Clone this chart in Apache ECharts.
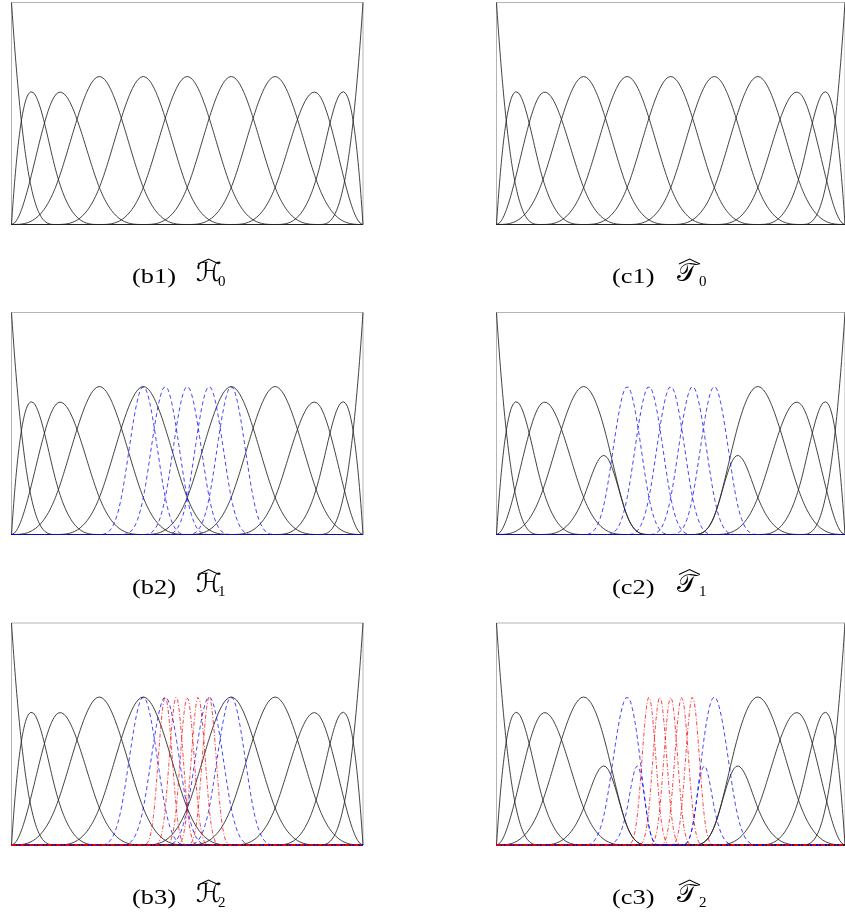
<!DOCTYPE html>
<html>
<head>
<meta charset="utf-8">
<script src="https://cdn.jsdelivr.net/npm/echarts@6/dist/echarts.min.js"></script>
<style>
  html, body { margin: 0; padding: 0; background: #ffffff; }
  #chart { width: 845px; height: 917px; }
</style>
</head>
<body>
<div id="chart"></div>
<script>
// Hierarchical (left column) and truncated hierarchical (right column)
// cubic B-spline bases on [0, 8], refined twice by dyadic bisection.
const DEGREE = 3;
const DOMAIN = [0, 8];
const LEVEL_CELLS = [8, 16, 32];            // knot spans per level
const REFINED_REGIONS = [[2, 6], [3, 5]];   // Ω1, Ω2 (nested subdomains)
const LEVEL_COLORS = ['#222222', '#0000ff', '#ff0000'];
const LEVEL_DASH = ['solid', [4, 3], [4, 2, 1, 2]];
const ROW_TAGS = [['(b1)', '(c1)'], ['(b2)', '(c2)'], ['(b3)', '(c3)']];
const COLUMN_SYMBOLS = ['\u210B', '\uD835\uDCAF']; // ℋ, 𝒯
const ROW_SUBSCRIPTS = ['0', '1', '2'];
const SAMPLE_STEP = 0.01;

// ---- B-spline machinery -------------------------------------------------
function openKnots(level) {
  const n = LEVEL_CELLS[level];
  const h = (DOMAIN[1] - DOMAIN[0]) / n;
  const U = [];
  for (let k = 0; k < DEGREE; k++) U.push(DOMAIN[0]);
  for (let k = 0; k <= n; k++) U.push(DOMAIN[0] + k * h);
  for (let k = 0; k < DEGREE; k++) U.push(DOMAIN[1]);
  return U;
}

function coxDeBoor(U, i, p, x) {
  if (p === 0) return (U[i] <= x && x < U[i + 1]) ? 1 : 0;
  let v = 0;
  const d1 = U[i + p] - U[i];
  const d2 = U[i + p + 1] - U[i + 1];
  if (d1 > 0) v += (x - U[i]) / d1 * coxDeBoor(U, i, p - 1, x);
  if (d2 > 0) v += (U[i + p + 1] - x) / d2 * coxDeBoor(U, i + 1, p - 1, x);
  return v;
}

function evalCombo(U, c, x) {
  const xx = Math.min(x, DOMAIN[1] - 1e-9);
  let s = 0;
  for (let i = 0; i < c.length; i++) {
    if (c[i] !== 0) s += c[i] * coxDeBoor(U, i, DEGREE, xx);
  }
  return s;
}

// Boehm single knot insertion
function insertKnot(U, c, t) {
  const p = DEGREE;
  let k = -1;
  for (let i = 0; i < U.length - 1; i++) if (U[i] <= t && t < U[i + 1]) k = i;
  const nc = [];
  for (let i = 0; i <= c.length; i++) {
    if (i <= k - p) nc.push(c[i]);
    else if (i <= k) {
      const a = (t - U[i]) / (U[i + p] - U[i]);
      nc.push(a * c[i] + (1 - a) * c[i - 1]);
    } else nc.push(c[i - 1]);
  }
  return [U.slice(0, k + 1).concat([t], U.slice(k + 1)), nc];
}

function refine(level, c) {
  let U = openKnots(level);
  const target = openKnots(level + 1);
  let cc = c.slice();
  for (const t of target) {
    if (!U.some(u => Math.abs(u - t) < 1e-12)) {
      [U, cc] = insertKnot(U, cc, t);
    }
  }
  return cc;
}

function regionOf(level) {
  return level === 0 ? DOMAIN : REFINED_REGIONS[level - 1];
}
function supportInside(level, i, region) {
  const U = openKnots(level);
  return U[i] >= region[0] - 1e-12 && U[i + DEGREE + 1] <= region[1] + 1e-12;
}

// Returns [{level, U, coeffs}] for the active functions of a hierarchy
// with `nLevels` levels; truncated when `truncate` is set.
function hierarchicalBasis(nLevels, truncate) {
  const out = [];
  for (let l = 0; l < nLevels; l++) {
    const U = openKnots(l);
    const nFun = U.length - DEGREE - 1;
    for (let i = 0; i < nFun; i++) {
      if (!supportInside(l, i, regionOf(l))) continue;
      if (l + 1 < nLevels && supportInside(l, i, REFINED_REGIONS[l])) continue;
      let c = new Array(nFun).fill(0);
      c[i] = 1;
      let lev = l;
      if (truncate) {
        while (lev + 1 < nLevels) {
          c = refine(lev, c);
          lev += 1;
          const region = REFINED_REGIONS[lev - 1];
          for (let j = 0; j < c.length; j++) {
            if (supportInside(lev, j, region)) c[j] = 0;
          }
        }
      }
      out.push({ level: l, U: openKnots(lev), coeffs: c });
    }
  }
  return out;
}

// ---- Layout ----------------------------------------------------------------
const GRID_LEFT = [11.5, 496.5];
const GRID_TOP = [2.5, 312.5, 623];
const GRID_W = 351.5, GRID_H = 222;

const grids = [], xAxes = [], yAxes = [], series = [], graphics = [];
const xs = [];
for (let x = DOMAIN[0]; x <= DOMAIN[1] + 1e-9; x += SAMPLE_STEP) xs.push(+x.toFixed(4));

let gi = 0;
for (let r = 0; r < 3; r++) {
  for (let col = 0; col < 2; col++) {
    grids.push({
      left: GRID_LEFT[col], top: GRID_TOP[r], width: GRID_W, height: GRID_H,
      show: true, borderColor: '#b4b4b4', borderWidth: 1, backgroundColor: 'transparent'
    });
    xAxes.push({ gridIndex: gi, type: 'value', min: DOMAIN[0], max: DOMAIN[1], show: false });
    yAxes.push({ gridIndex: gi, type: 'value', min: 0, max: 1, show: false });

    const funs = hierarchicalBasis(r + 1, col === 1);
    funs.sort((a, b) => a.level - b.level);
    for (const f of funs) {
      series.push({
        type: 'line', xAxisIndex: gi, yAxisIndex: gi,
        showSymbol: false, silent: true, animation: false,
        clip: false,
        lineStyle: { color: LEVEL_COLORS[f.level], width: 1, type: LEVEL_DASH[f.level], opacity: f.level === 0 ? 0.85 : 0.75 },
        data: xs.map(x => [x, evalCombo(f.U, f.coeffs, x)])
      });
    }
    gi++;
  }
}

// ---- Captions ---------------------------------------------------------------
const TAG_FONT = '"Liberation Serif", "DejaVu Serif", serif';
const SYM_FONT = '"DejaVu Serif", "DejaVu Sans", serif';
const TAG_X = [132, 612];
const SYM_X = [196, 677];
const ROW_BASE = [0, 310.5, 621];
for (let r = 0; r < 3; r++) {
  for (let col = 0; col < 2; col++) {
    const dy = ROW_BASE[r];
    graphics.push({
      type: 'text', x: TAG_X[col], y: 277.5 + dy, scaleX: 1.2,
      style: { text: ROW_TAGS[r][col], font: '22px ' + TAG_FONT, fill: '#000',
               textAlign: 'left', textVerticalAlign: 'middle' }
    });
    graphics.push({
      type: 'text', x: SYM_X[col], y: 274.5 + dy,
      style: { text: COLUMN_SYMBOLS[col], font: '26px ' + SYM_FONT, fill: '#000',
               textAlign: 'left', textVerticalAlign: 'middle' }
    });
    graphics.push({
      type: 'text', x: SYM_X[col] + 22, y: 282 + dy,
      style: { text: ROW_SUBSCRIPTS[r], font: '15px ' + TAG_FONT, fill: '#000',
               textAlign: 'left', textVerticalAlign: 'middle' }
    });
    const hx = SYM_X[col] + 2;
    graphics.push({
      type: 'polyline',
      shape: { points: [[hx, 264 + dy], [hx + 10.5, 259 + dy], [hx + 21, 264 + dy]] },
      style: { stroke: '#000', lineWidth: 1.1, fill: null }
    });
  }
}

const chart = echarts.init(document.getElementById('chart'), null, { renderer: 'canvas' });
chart.setOption({
  animation: false,
  backgroundColor: '#ffffff',
  grid: grids, xAxis: xAxes, yAxis: yAxes, series: series,
  graphic: graphics
});
</script>
</body>
</html>
